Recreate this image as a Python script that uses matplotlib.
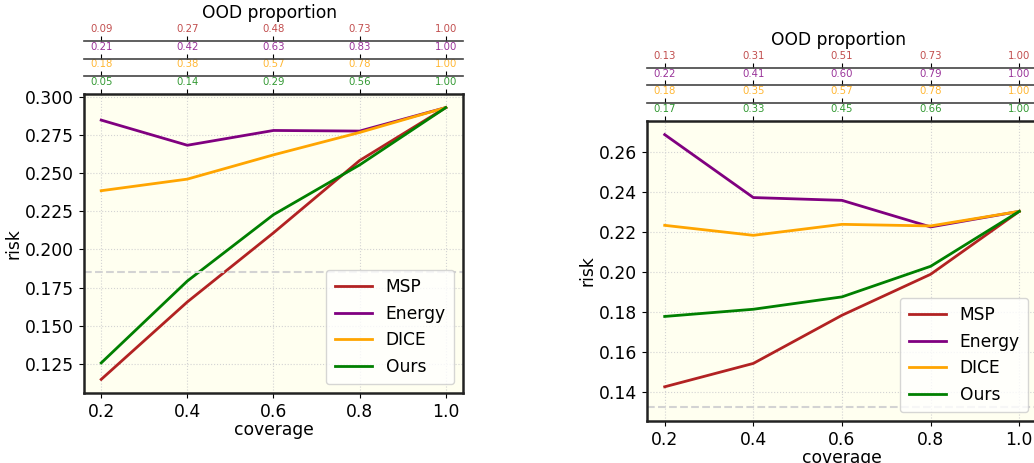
import matplotlib
matplotlib.use("Agg")
import matplotlib.pyplot as plt

coverage = [0.2, 0.4, 0.6, 0.8, 1.0]
methods = ["MSP", "Energy", "DICE", "Ours"]
colors = ["firebrick", "purple", "orange", "green"]

# left panel
risk_left = {
    "MSP": [0.1148, 0.1656, 0.2109, 0.2583, 0.2930],
    "Energy": [0.2848, 0.2683, 0.2780, 0.2776, 0.2930],
    "DICE": [0.2385, 0.2461, 0.2620, 0.2767, 0.2930],
    "Ours": [0.1256, 0.1793, 0.2228, 0.2554, 0.2930],
}
ood_left = {
    "MSP": ["0.09", "0.27", "0.48", "0.73", "1.00"],
    "Energy": ["0.21", "0.42", "0.63", "0.83", "1.00"],
    "DICE": ["0.18", "0.38", "0.57", "0.78", "1.00"],
    "Ours": ["0.05", "0.14", "0.29", "0.56", "1.00"],
}
ref_left = 0.1852

# right panel
risk_right = {
    "MSP": [0.1425, 0.1542, 0.1783, 0.1988, 0.2303],
    "Energy": [0.2687, 0.2372, 0.2358, 0.2225, 0.2303],
    "DICE": [0.2233, 0.2183, 0.2238, 0.2230, 0.2303],
    "Ours": [0.1777, 0.1813, 0.1875, 0.2028, 0.2303],
}
ood_right = {
    "MSP": ["0.13", "0.31", "0.51", "0.73", "1.00"],
    "Energy": ["0.22", "0.41", "0.60", "0.79", "1.00"],
    "DICE": ["0.18", "0.35", "0.57", "0.78", "1.00"],
    "Ours": ["0.17", "0.33", "0.45", "0.66", "1.00"],
}
ref_right = 0.1322

FS = 12.3


def draw_panel(ax, risk, ood, ref):
    ax.set_facecolor("#fffff0")
    for m, c in zip(methods, colors):
        ax.plot(coverage, risk[m], color=c, lw=2, label=m)
    ax.axhline(ref, color="lightgray", ls="--", lw=1.5)
    ax.grid(True, ls=":", color="lightgray", lw=0.8)
    ax.set_xticks(coverage)
    ax.tick_params(labelsize=FS)
    ax.set_xlabel("coverage", fontsize=FS, labelpad=0)
    ax.set_ylabel("risk", fontsize=FS, labelpad=2)
    for s in ax.spines.values():
        s.set_linewidth(1.8)
        s.set_color("#222222")
    ax.legend(loc="lower right", fontsize=FS, framealpha=0.8,
              handlelength=2.2, borderpad=0.5)

    # stacked top axes with OOD proportions, green one sits on the frame
    step = 17.7 / 299
    for i, (m, c) in enumerate(zip(reversed(methods), reversed(colors))):
        sec = ax.secondary_xaxis(1.0 + i * step)
        sec.set_xticks(coverage)
        sec.set_xticklabels(ood[m])
        sec.tick_params(labelsize=7.3, labelcolor=c, pad=1.5, length=3.5,
                        width=0.8)
        for lab in sec.get_xticklabels():
            lab.set_alpha(0.8)
        sec.spines["top"].set_linewidth(1.2)
        sec.spines["top"].set_color("#444444")
        if i == 0:
            sec.spines["top"].set_visible(False)
    ax.text(0.49, 1.271, "OOD proportion", transform=ax.transAxes,
            ha="center", va="center", fontsize=FS)


fig = plt.figure(figsize=(10.34, 4.63), dpi=100)
ax1 = fig.add_axes([0.0812, 0.1512, 0.3666, 0.6458])
ax2 = fig.add_axes([0.6257, 0.0907, 0.3772, 0.6480])
draw_panel(ax1, risk_left, ood_left, ref_left)
draw_panel(ax2, risk_right, ood_right, ref_right)

fig.savefig("out.png", dpi=100)
